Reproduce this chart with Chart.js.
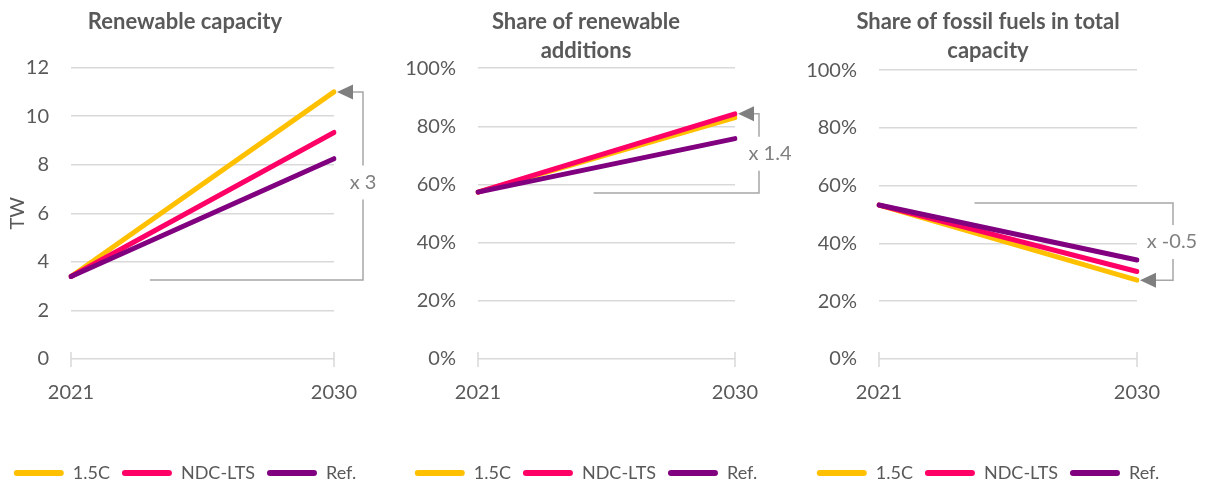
<!DOCTYPE html>
<html>
<head>
<meta charset="utf-8">
<script src="https://cdn.jsdelivr.net/npm/chart.js@4.4.1/dist/chart.umd.min.js"></script>
<style>
  html, body { margin: 0; padding: 0; background: #fff; overflow: hidden; }
  .panel { position: absolute; top: 0; width: 402px; height: 486px; }
</style>
</head>
<body>
<div class="panel" style="left:0"><canvas id="capChart"></canvas></div>
<div class="panel" style="left:402px"><canvas id="addChart"></canvas></div>
<div class="panel" style="left:804px"><canvas id="fossilChart"></canvas></div>
<script>
// data
var years = ['2021', '2030'];
var seriesNames = ['1.5C', 'NDC-LTS', 'Ref.'];

var capacity15 = [3.4, 11.0];
var capacityNdc = [3.4, 9.33];
var capacityRef = [3.4, 8.25];

var additions15 = [57.4, 83.0];
var additionsNdc = [57.4, 84.3];
var additionsRef = [57.4, 75.8];

var fossil15 = [53.3, 27.3];
var fossilNdc = [53.3, 30.3];
var fossilRef = [53.3, 34.3];

var capTicks = [0, 2, 4, 6, 8, 10, 12];
var pctTicks = [0, 20, 40, 60, 80, 100];

var multipliers = ['x 3', 'x 1.4', 'x -0.5'];

var colors = ['#FFC000', '#FF0066', '#800080'];
var FONT = 'Lato, "Open Sans", sans-serif';
var TEXT = '#595959';
var GRID = '#d9d9d9';

// bracket with arrow and multiplier label, placed with the chart scales
var bracketPlugin = {
  id: 'bracket',
  afterDatasetsDraw: function(chart, args, o) {
    var ctx = chart.ctx, xs = chart.scales.x, ys = chart.scales.y, ca = chart.chartArea;
    ctx.save();
    // cross tick marks on the category axis
    ctx.strokeStyle = GRID;
    ctx.lineWidth = 1.5;
    for (var i = 0; i < years.length; i++) {
      var px = xs.getPixelForValue(i);
      ctx.beginPath();
      ctx.moveTo(px, ca.bottom - 7);
      ctx.lineTo(px, ca.bottom + 8);
      ctx.stroke();
    }
    if (!o.label) { ctx.restore(); return; }
    var endX = xs.getPixelForValue(years.length - 1);
    var bx = endX + o.dx;
    var baseY = ys.getPixelForValue(o.base);
    var tipY = ys.getPixelForValue(o.tip);
    var labY = ys.getPixelForValue(o.labelAt);
    var startX = xs.left + o.from * (xs.right - xs.left);
    var dir = tipY < baseY ? -1 : 1;
    ctx.strokeStyle = '#a6a6a6';
    ctx.lineWidth = 1.5;
    ctx.beginPath();
    ctx.moveTo(startX, baseY);
    ctx.lineTo(bx, baseY);
    ctx.lineTo(bx, labY - dir * 17);
    ctx.moveTo(bx, labY + dir * 17);
    ctx.lineTo(bx, tipY);
    ctx.lineTo(endX + 18, tipY);
    ctx.stroke();
    ctx.fillStyle = '#7f7f7f';
    ctx.beginPath();
    ctx.moveTo(endX + 3, tipY);
    ctx.lineTo(endX + 19, tipY - 7.5);
    ctx.lineTo(endX + 19, tipY + 7.5);
    ctx.closePath();
    ctx.fill();
    ctx.font = '20px ' + FONT;
    ctx.fillStyle = '#808080';
    ctx.textAlign = 'center';
    ctx.textBaseline = 'middle';
    ctx.fillText(o.label, bx + o.labelDx, labY);
    ctx.restore();
  }
};

function makeChart(id, cfg) {
  var sets = [cfg.s15, cfg.sNdc, cfg.sRef].map(function(vals, i) {
    return {
      label: seriesNames[i],
      data: vals,
      borderColor: colors[i],
      backgroundColor: colors[i],
      borderWidth: 5,
      borderCapStyle: 'round',
      pointRadius: 0,
      order: 2 - i
    };
  });
  return new Chart(document.getElementById(id), {
    type: 'line',
    data: { labels: years, datasets: sets },
    plugins: [bracketPlugin],
    options: {
      responsive: true,
      maintainAspectRatio: false,
      animation: false,
      layout: { padding: { left: 0, right: cfg.padRight, top: 0, bottom: 0 } },
      plugins: {
        tooltip: { enabled: false },
        title: {
          display: true,
          text: cfg.title,
          color: TEXT,
          font: { family: FONT, size: 22, weight: 'bold', lineHeight: 1.3 },
          padding: { top: 8, bottom: cfg.titleGap }
        },
        legend: {
          position: 'bottom',
          maxHeight: 34,
          labels: {
            color: TEXT,
            font: { family: FONT, size: 18 },
            boxWidth: 50,
            boxHeight: 6,
            useBorderRadius: true,
            borderRadius: 3,
            padding: 12,
            sort: function(a, b) { return a.datasetIndex - b.datasetIndex; },
            generateLabels: function(chart) {
              var items = Chart.defaults.plugins.legend.labels.generateLabels(chart);
              items.forEach(function(it) { it.lineWidth = 0; });
              return items;
            }
          }
        },
        bracket: cfg.bracket
      },
      scales: {
        x: {
          grid: { display: false },
          border: { display: false },
          ticks: { color: TEXT, font: { family: FONT, size: 20 }, padding: 14, maxRotation: 0 },
          afterFit: function(s) { s.height = 93; }
        },
        y: {
          min: 0,
          max: cfg.max,
          afterBuildTicks: function(s) { s.ticks = cfg.ticks.map(function(v) { return { value: v }; }); },
          grid: { color: GRID, lineWidth: 1.5, drawTicks: false },
          border: { display: false },
          ticks: {
            color: TEXT,
            font: { family: FONT, size: 20 },
            padding: 22,
            callback: function(v) { return v + cfg.unit; }
          },
          title: {
            display: !!cfg.axisTitle,
            text: cfg.axisTitle,
            color: TEXT,
            font: { family: FONT, size: 20 },
            padding: { top: 6, bottom: 0 }
          },
          afterFit: function(s) { s.width = cfg.left; }
        },
        yRight: {
          position: 'right',
          display: true,
          grid: { display: false },
          border: { display: false },
          ticks: { display: false },
          afterFit: function(s) { s.width = cfg.rightGap; }
        }
      }
    }
  });
}

makeChart('capChart', {
  title: 'Renewable capacity', titleGap: 31,
  s15: capacity15, sNdc: capacityNdc, sRef: capacityRef,
  max: 12, ticks: capTicks, unit: '', axisTitle: 'TW',
  left: 71, padRight: 32, rightGap: 36,
  bracket: { label: multipliers[0], base: 3.25, tip: capacity15[1], labelAt: 7.27, from: 0.30, dx: 29, labelDx: 0 }
});

makeChart('addChart', {
  title: ['Share of renewable', 'additions'], titleGap: 3,
  s15: additions15, sNdc: additionsNdc, sRef: additionsRef,
  max: 100, ticks: pctTicks, unit: '%', axisTitle: '',
  left: 76, padRight: 34, rightGap: 35,
  bracket: { label: multipliers[1], base: 57.1, tip: additionsNdc[1], labelAt: 70.6, from: 0.45, dx: 24, labelDx: 11 }
});

makeChart('fossilChart', {
  title: ['Share of fossil fuels in total', 'capacity'], titleGap: 5,
  s15: fossil15, sNdc: fossilNdc, sRef: fossilRef,
  max: 100, ticks: pctTicks, unit: '%', axisTitle: '',
  left: 75, padRight: 34, rightGap: 35,
  bracket: { label: multipliers[2], base: 54.0, tip: fossil15[1], labelAt: 40.5, from: 0.37, dx: 36, labelDx: -1 }
});
</script>
</body>
</html>
